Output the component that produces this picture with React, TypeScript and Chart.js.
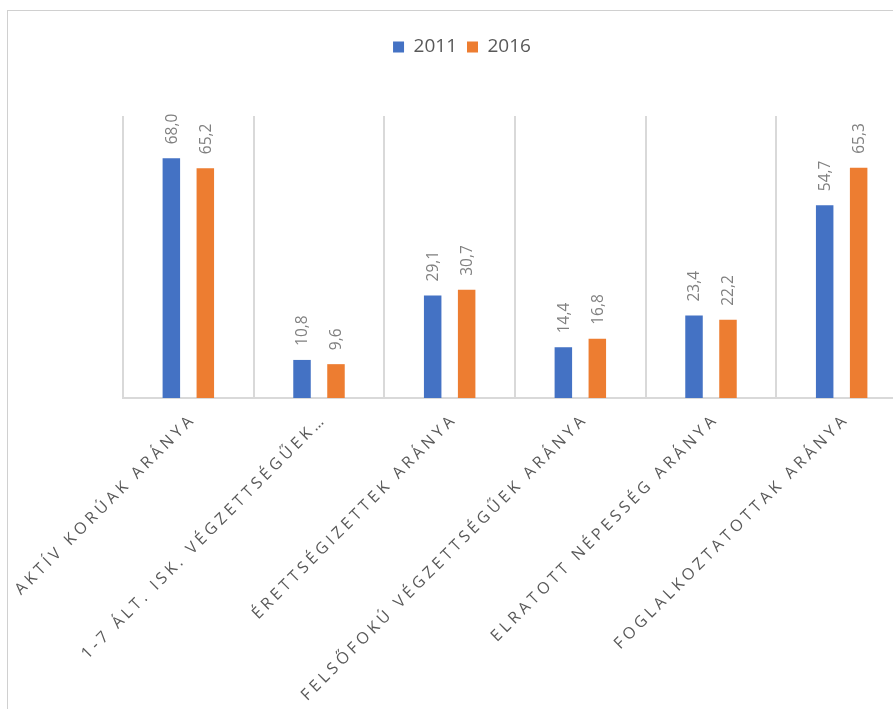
import { useEffect, useRef } from 'react';
import { Chart, registerables } from 'chart.js';

Chart.register(...registerables);

// Category labels along the x axis (as printed, upper case)
const categories = [
  'AKTÍV KORÚAK ARÁNYA',
  '1-7 ÁLT. ISK. VÉGZETTSÉGŰEK…',
  'ÉRETTSÉGIZETTEK ARÁNYA',
  'FELSŐFOKÚ VÉGZETTSÉGŰEK ARÁNYA',
  'ELRATOTT NÉPESSÉG ARÁNYA',
  'FOGLALKOZTATOTTAK ARÁNYA',
];

const seriesNames = ['2011', '2016'];
const values2011 = [68.0, 10.8, 29.1, 14.4, 23.4, 54.7];
const values2016 = [65.2, 9.6, 30.7, 16.8, 22.2, 65.3];
const seriesColors = ['#4472C4', '#ED7D31'];

const yMin = 0;
const yMax = 80;

// Hungarian number format: one decimal, comma separator
const formatValue = (v: number) => v.toFixed(1).replace('.', ',');

// Draws each bar's value vertically just above the bar
const barValueLabels = {
  id: 'barValueLabels',
  afterDatasetsDraw(chart: any) {
    const { ctx } = chart;
    ctx.save();
    ctx.font = '15.5px "Open Sans"';
    ctx.fillStyle = '#808080';
    ctx.textAlign = 'left';
    ctx.textBaseline = 'middle';
    chart.data.datasets.forEach((ds: any, i: number) => {
      const meta = chart.getDatasetMeta(i);
      meta.data.forEach((bar: any, j: number) => {
        const v = ds.data[j] as number;
        const { x, y } = bar.getProps(['x', 'y'], true);
        ctx.save();
        ctx.translate(x, y - 14);
        ctx.rotate(-Math.PI / 2);
        ctx.fillText(formatValue(v), 0, 1);
        ctx.restore();
      });
    });
    ctx.restore();
  },
};

// Widens the letter spacing of the category labels on the x axis
const spacedCategoryLabels = {
  id: 'spacedCategoryLabels',
  beforeDraw(chart: any) {
    const xs: any = chart.scales.x;
    if (xs && !xs._spaced) {
      const orig = xs.drawLabels;
      xs.drawLabels = function (area: any) {
        const c = this.ctx;
        c.save();
        c.letterSpacing = '3.8px';
        orig.call(this, area);
        c.restore();
      };
      xs._spaced = true;
    }
  },
};

export default function App() {
  const canvasRef = useRef<HTMLCanvasElement>(null);

  useEffect(() => {
    if (!canvasRef.current) return;
    Chart.defaults.font.family = '"Open Sans", sans-serif';

    const chart = new Chart(canvasRef.current, {
      type: 'bar',
      data: {
        labels: categories,
        datasets: [
          {
            label: seriesNames[0],
            data: values2011,
            backgroundColor: seriesColors[0],
            borderWidth: 0,
          },
          {
            label: seriesNames[1],
            data: values2016,
            backgroundColor: seriesColors[1],
            borderWidth: 0,
          },
        ],
      },
      options: {
        responsive: false,
        animation: false,
        layout: { padding: { top: 16.5, left: 0, right: 0, bottom: 0 } },
        datasets: {
          bar: { categoryPercentage: 0.52, barPercentage: 0.515 },
        },
        scales: {
          x: {
            grid: {
              display: true,
              offset: true,
              color: '#d9d9d9',
              lineWidth: 2,
              drawTicks: false,
            },
            border: { display: true, color: '#d9d9d9', width: 2 },
            ticks: {
              color: '#595959',
              font: { size: 16 },
              minRotation: 45,
              maxRotation: 45,
              autoSkip: false,
              padding: 12,
              labelOffset: 5,
            },
            afterFit: (s: any) => {
              s.height = 323;
            },
          },
          y: {
            min: yMin,
            max: yMax,
            grid: { display: false },
            border: { display: false },
            ticks: { display: false },
            afterFit: (s: any) => {
              s.width = 115;
            },
          },
          y2: {
            position: 'right',
            grid: { display: false },
            border: { display: false },
            ticks: { display: false },
            afterFit: (s: any) => {
              s.width = 9;
            },
          },
        },
        plugins: {
          legend: {
            position: 'top',
            labels: {
              boxWidth: 11,
              boxHeight: 11,
              padding: 10,
              color: '#595959',
              font: { size: 19 },
            },
          },
          title: {
            display: true,
            text: '',
            weight: 500,
            padding: { top: 0, bottom: 37.5 },
            font: { size: 10 },
          },
          tooltip: { enabled: false },
        },
      } as any,
      plugins: [barValueLabels, spacedCategoryLabels],
    });

    return () => chart.destroy();
  }, []);

  return (
    <div
      style={{
        position: 'absolute',
        left: 0,
        top: 0,
        width: 893,
        height: 709,
        overflow: 'hidden',
        background: '#ffffff',
      }}
    >
      <div
        style={{
          position: 'absolute',
          left: 7,
          top: 10,
          width: 908,
          height: 720,
          border: '1px solid #d0d0d0',
          background: '#ffffff',
        }}
      >
        <canvas ref={canvasRef} width={908} height={710} style={{ display: 'block' }} />
      </div>
    </div>
  );
}
